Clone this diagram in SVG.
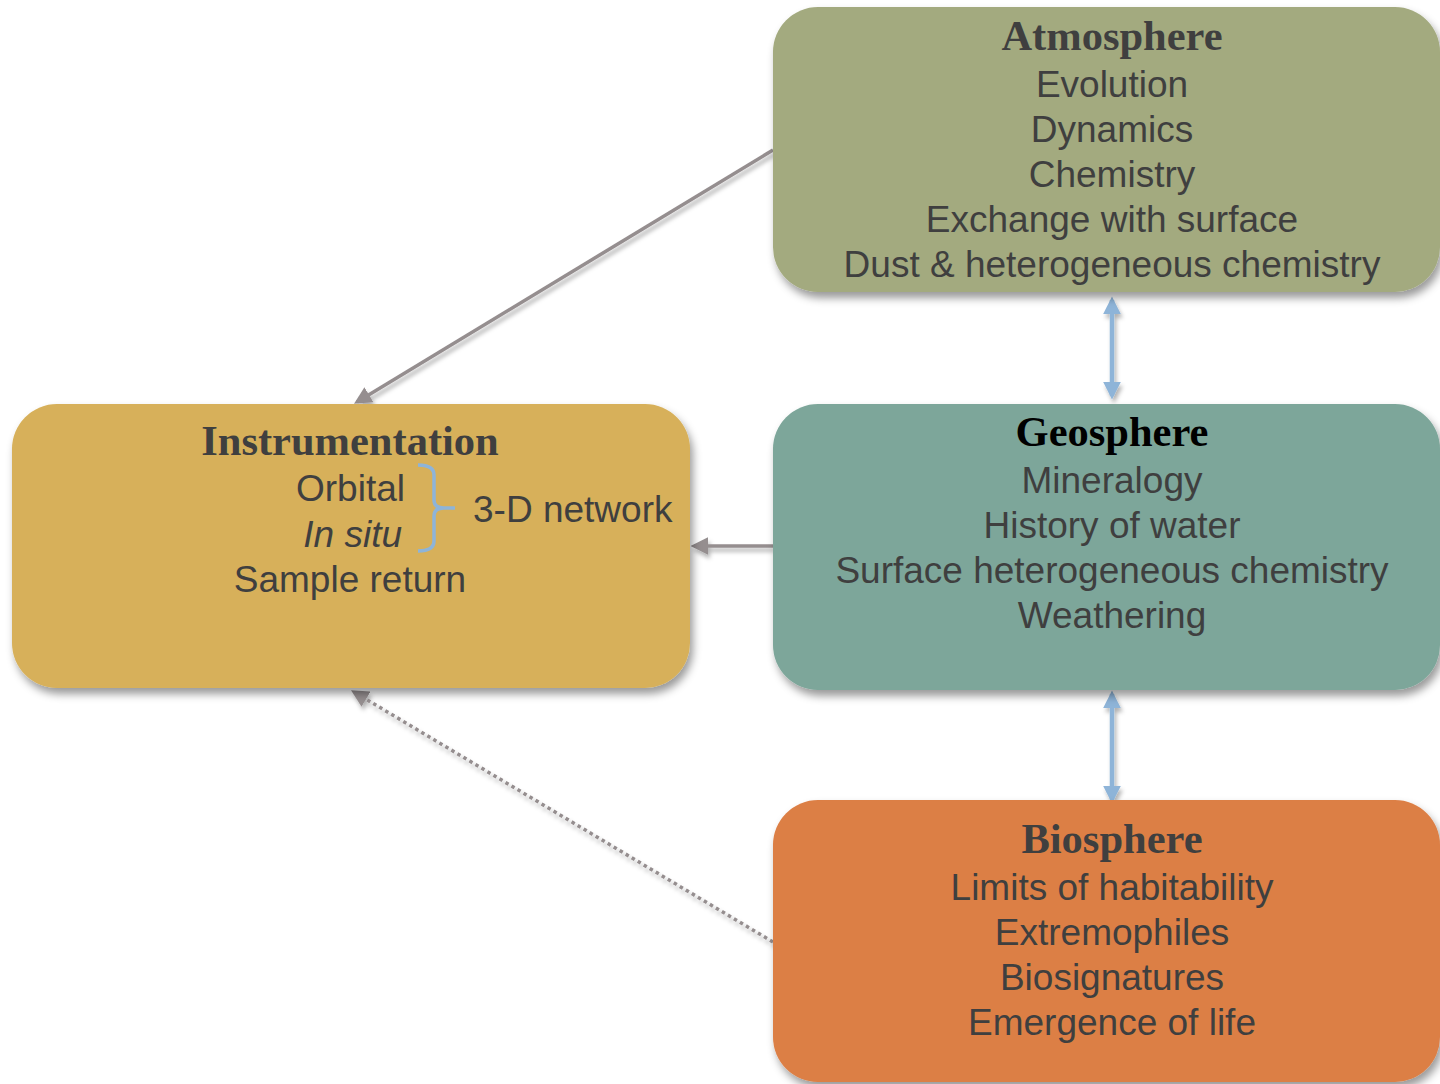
<svg xmlns="http://www.w3.org/2000/svg" width="1440" height="1084" viewBox="0 0 1440 1084">
<defs>
<filter id="sh" x="-10%" y="-10%" width="130%" height="130%">
<feDropShadow dx="3" dy="6" stdDeviation="4" flood-color="#000" flood-opacity="0.4"/>
</filter>
<filter id="lsh" x="-10%" y="-10%" width="130%" height="130%">
<feDropShadow dx="2" dy="4" stdDeviation="2" flood-color="#000" flood-opacity="0.3"/>
</filter>
<marker id="ag" viewBox="0 0 10 10" refX="8" refY="5" markerWidth="5" markerHeight="5" orient="auto-start-reverse" markerUnits="strokeWidth">
<path d="M0,0 L10,5 L0,10 z" fill="#958E8F"/>
</marker>
<marker id="ab" viewBox="0 0 10 10" refX="8" refY="5" markerWidth="4" markerHeight="4" orient="auto-start-reverse" markerUnits="strokeWidth">
<path d="M0,0 L10,5 L0,10 z" fill="#8EB4D8"/>
</marker>
</defs>
<style>
.t{font-family:"Liberation Serif",serif;font-weight:bold;font-size:42.5px;fill:#3F3F3F;text-anchor:middle}
.i{font-family:"Liberation Sans",Arial,sans-serif;font-size:37px;fill:#3F3F3F;text-anchor:middle}
.g{stroke:#958E8F;stroke-width:3.5;fill:none}
.b{stroke:#8EB4D8;stroke-width:4.5;fill:none}
</style>
<rect width="1440" height="1084" fill="#fff"/>
<g id="connectors" filter="url(#lsh)">
<line class="g" x1="773" y1="150" x2="357" y2="402" marker-end="url(#ag)"/>
<line class="g" x1="773" y1="546" x2="694" y2="546" marker-end="url(#ag)"/>
<line class="g" x1="773" y1="942" x2="354" y2="692" stroke-dasharray="3.5 3.5" marker-end="url(#ag)"/>
<line class="b" x1="1112" y1="300" x2="1112" y2="396" marker-start="url(#ab)" marker-end="url(#ab)"/>
<line class="b" x1="1112" y1="694" x2="1112" y2="800" marker-start="url(#ab)" marker-end="url(#ab)"/>
</g>
<g id="atmosphere">
<rect x="773" y="7" width="667" height="285" rx="45" fill="#A3AA7F" filter="url(#sh)"/>
<text class="t" x="1112" y="50">Atmosphere</text>
<text class="i" x="1112" y="97">Evolution</text>
<text class="i" x="1112" y="142">Dynamics</text>
<text class="i" x="1112" y="187">Chemistry</text>
<text class="i" x="1112" y="232">Exchange with surface</text>
<text class="i" x="1112" y="277">Dust &amp; heterogeneous chemistry</text>
</g>
<g id="geosphere">
<rect x="773" y="404" width="667" height="286" rx="45" fill="#7DA69A" filter="url(#sh)"/>
<text class="t" x="1112" y="446" style="fill:#000">Geosphere</text>
<text class="i" x="1112" y="493">Mineralogy</text>
<text class="i" x="1112" y="538">History of water</text>
<text class="i" x="1112" y="583">Surface heterogeneous chemistry</text>
<text class="i" x="1112" y="628">Weathering</text>
</g>
<g id="biosphere">
<rect x="773" y="800" width="667" height="282" rx="45" fill="#DC7F45" filter="url(#sh)"/>
<text class="t" x="1112" y="853">Biosphere</text>
<text class="i" x="1112" y="900">Limits of habitability</text>
<text class="i" x="1112" y="945">Extremophiles</text>
<text class="i" x="1112" y="990">Biosignatures</text>
<text class="i" x="1112" y="1035">Emergence of life</text>
</g>
<g id="instrumentation">
<rect x="12" y="404" width="678" height="284" rx="45" fill="#D7B05A" filter="url(#sh)"/>
<text class="t" x="350" y="455">Instrumentation</text>
<text class="i" x="405" y="501" style="text-anchor:end">Orbital</text>
<text class="i" x="402" y="547" style="text-anchor:end;font-style:italic">In situ</text>
<text class="i" x="350" y="592">Sample return</text>
<path d="M418,465 Q434,465 434,475 L434,500 Q434,508 444,508 L455,508 M444,508 Q434,508 434,516 L434,541 Q434,551 418,551" fill="none" stroke="#8EB4D8" stroke-width="3.5"/>
<text class="i" x="473" y="522" style="text-anchor:start">3-D network</text>
</g>
</svg>
